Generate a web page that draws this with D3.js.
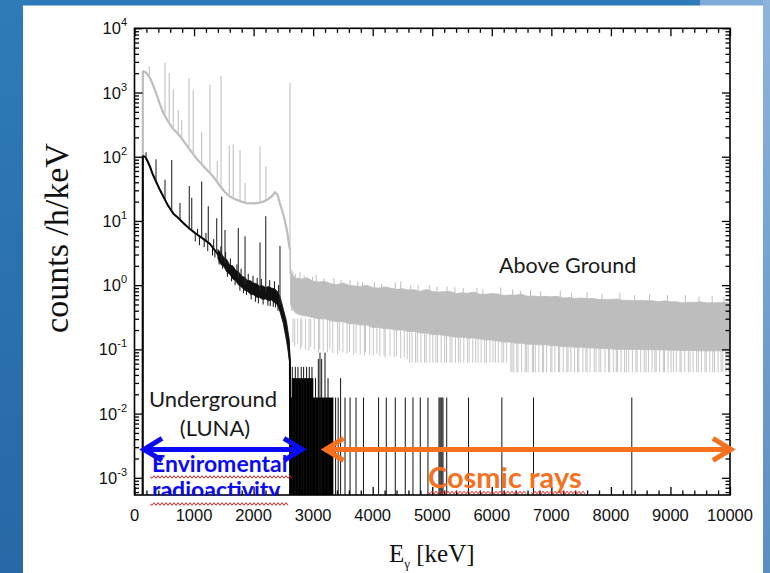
<!DOCTYPE html>
<html>
<head>
<meta charset="utf-8">
<script src="https://cdn.jsdelivr.net/npm/d3@7"></script>
<style>
body { margin: 0; background: #fff; }
svg { display: block; }
</style>
</head>
<body>
<svg id="chart" width="770" height="573"></svg>
<script>
// ---- values (E in keV, counts /h/keV) ----

// above ground: smooth part below 2615 keV
var agE = [138, 140, 150, 200, 260, 320, 373, 430, 484, 560, 652, 764, 900, 1044, 1180, 1323, 1436, 1520, 1604, 1700, 1800, 1884, 2000, 2100, 2163, 2250, 2320, 2360, 2400, 2443, 2500, 2556, 2600, 2614];
var agV = [5.4e-4, 2100, 2150, 2000, 1700, 1250, 920, 650, 480, 360, 270, 210, 140, 93, 68, 49, 35, 28, 24, 21.5, 20, 19, 18.8, 19.3, 20, 22, 25, 28, 26, 18.5, 12.5, 7.5, 4, 3.5];

// above ground: gamma lines
var agPeakE = [249, 512, 584, 652, 735, 793, 915, 987, 1128, 1268, 1390, 1453, 1592, 1659, 1772, 1856, 2108, 2208, 2611];
var agPeakV = [2570, 2940, 2000, 1100, 535, 375, 1690, 1100, 245, 1320, 85, 1820, 150, 155, 126, 39, 146, 71, 1420];

// above ground: noisy band above 2615 keV (upper / lower edge of the dense trace)
var bandE = [2620, 2700, 2800, 2900, 3000, 3100, 3200, 3300, 3400, 3500, 3600, 3700, 3800, 3900, 4000, 4100, 4200, 4300, 4400, 4500, 4600, 4700, 4800, 4900, 5000, 5100, 5200, 5300, 5400, 5500, 5600, 5700, 5800, 5900, 6000, 6100, 6200, 6300, 6400, 6500, 6600, 6700, 6800, 6900, 7000, 7100, 7200, 7300, 7400, 7500, 7600, 7700, 7800, 7900, 8000, 8100, 8200, 8300, 8400, 8500, 8600, 8700, 8800, 8900, 9000, 9100, 9200, 9300, 9400, 9500, 9600, 9700, 9800, 9900, 10000];
var bandHi = [1.55, 1.3, 1.25, 1.3, 1.15, 1.12, 1.14, 1.05, 1.02, 1.08, 1.0, 0.97, 0.95, 1.0, 0.92, 0.9, 0.94, 0.9, 0.86, 0.88, 0.84, 0.85, 0.8, 0.86, 0.8, 0.78, 0.79, 0.8, 0.74, 0.76, 0.75, 0.78, 0.72, 0.72, 0.74, 0.73, 0.69, 0.7, 0.7, 0.72, 0.67, 0.68, 0.66, 0.67, 0.66, 0.67, 0.63, 0.64, 0.62, 0.63, 0.62, 0.62, 0.6, 0.6, 0.6, 0.61, 0.58, 0.58, 0.57, 0.58, 0.57, 0.57, 0.55, 0.57, 0.55, 0.55, 0.53, 0.54, 0.54, 0.55, 0.53, 0.53, 0.53, 0.54, 0.52];
var bandLo = [0.5, 0.37, 0.34, 0.33, 0.31, 0.3, 0.3, 0.28, 0.27, 0.27, 0.25, 0.25, 0.24, 0.24, 0.22, 0.22, 0.21, 0.21, 0.2, 0.2, 0.19, 0.19, 0.18, 0.18, 0.17, 0.17, 0.165, 0.16, 0.155, 0.155, 0.15, 0.15, 0.145, 0.14, 0.14, 0.135, 0.13, 0.13, 0.125, 0.125, 0.12, 0.12, 0.118, 0.118, 0.115, 0.113, 0.11, 0.11, 0.108, 0.108, 0.106, 0.105, 0.104, 0.103, 0.102, 0.1, 0.1, 0.1, 0.1, 0.1, 0.099, 0.099, 0.098, 0.098, 0.097, 0.097, 0.096, 0.096, 0.096, 0.095, 0.095, 0.095, 0.095, 0.095, 0.095];

// above ground: channels dipping below the band (three stretches)
var dipE1 = [2660, 2690, 2740, 2790, 2810, 2870, 2930, 2960, 3020, 3090, 3110, 3170, 3240, 3280, 3330, 3410, 3440, 3500, 3570, 3610, 3680, 3720, 3790, 3860, 3880, 3950, 4010, 4070, 4120, 4190, 4210, 4290, 4360, 4400, 4470, 4530, 4580];
var dipV1 = [0.13, 0.11, 0.12, 0.1, 0.11, 0.1, 0.095, 0.11, 0.1, 0.09, 0.1, 0.095, 0.09, 0.1, 0.088, 0.085, 0.095, 0.09, 0.085, 0.09, 0.083, 0.088, 0.083, 0.08, 0.09, 0.083, 0.08, 0.085, 0.078, 0.08, 0.075, 0.08, 0.075, 0.078, 0.072, 0.075, 0.07];
var dipE2 = [4620, 4660, 4720, 4750, 4810, 4870, 4900, 4960, 5010, 5060, 5090, 5150, 5210, 5240, 5300, 5330, 5390, 5440, 5470, 5530, 5590, 5620, 5680, 5730, 5770, 5820, 5880, 5910, 5970, 6020, 6060, 6110, 6170, 6200, 6250];
var dipV2 = 0.062;
var dipE3 = [6320, 6340, 6370, 6420, 6440, 6500, 6560, 6580, 6610, 6680, 6700, 6730, 6790, 6850, 6870, 6920, 6990, 7010, 7060, 7120, 7140, 7200, 7260, 7280, 7330, 7390, 7440, 7460, 7530, 7580, 7600, 7650, 7720, 7750, 7800, 7830, 7900, 7960, 7980, 8040, 8090, 8110, 8170, 8230, 8260, 8300, 8360, 8420, 8440, 8500, 8560, 8590, 8630, 8690, 8740, 8760, 8820, 8880, 8900, 8960, 9010, 9050, 9100, 9160, 9180, 9240, 9300, 9330, 9380, 9440, 9470, 9520, 9580, 9600, 9660, 9710, 9740, 9800, 9850, 9880, 9930, 9970];
var dipV3 = 0.044;

// above ground: channels poking above the band
var riseE = [2640, 2660, 2700, 2780, 2850, 2990, 3050, 3180, 3350, 3470, 3620, 3750, 3830, 4030, 4150, 4380, 4470, 4640, 4760, 4950, 5080, 5250, 5380, 5520, 5750, 5850, 6150, 6350, 6480, 6650, 6820, 7150, 7340, 7600, 7850, 8150, 8400, 8650, 8950, 9250, 9480, 9700, 9900];
var riseV = [1.75, 1.6, 1.5, 1.6, 1.4, 1.35, 1.45, 1.3, 1.3, 1.2, 1.2, 1.15, 1.12, 1.1, 1.05, 1.1, 1.15, 1.0, 1.0, 1.0, 0.95, 0.95, 0.92, 0.9, 0.9, 0.86, 0.92, 0.85, 0.82, 0.85, 0.8, 0.82, 0.76, 0.78, 0.74, 0.76, 0.7, 0.72, 0.7, 0.7, 0.66, 0.68, 0.65];

// underground (LUNA) continuum up to 2615 keV
var ugE = [138, 140, 148, 180, 220, 260, 300, 373, 430, 484, 560, 652, 740, 819, 930, 1044, 1150, 1268, 1380, 1500, 1600, 1700, 1800, 1900, 2000, 2100, 2200, 2300, 2380, 2440, 2500, 2550, 2590, 2610, 2614];
var ugV = [5.4e-4, 100, 102, 100, 85, 70, 55, 39, 30, 24, 17.5, 13, 11, 9.3, 7.5, 6.2, 5.3, 4.4, 3.2, 2.3, 1.75, 1.4, 1.15, 1.0, 0.9, 0.82, 0.78, 0.76, 0.68, 0.5, 0.33, 0.2, 0.12, 0.065, 5.4e-4];

// underground: spread of the noisy trace between 1400 and 2600 keV
var ugBandE = [1400, 1450, 1500, 1550, 1600, 1650, 1700, 1750, 1800, 1850, 1900, 1950, 2000, 2050, 2100, 2150, 2200, 2250, 2300, 2350, 2400, 2450, 2500, 2550, 2600];
var ugBandHi = [3.6, 3.2, 2.7, 2.5, 2.05, 2.0, 1.7, 1.6, 1.38, 1.33, 1.18, 1.17, 1.08, 1.05, 0.97, 0.98, 0.92, 0.95, 0.9, 0.88, 0.8, 0.64, 0.42, 0.28, 0.14];
var ugBandLo = [2.6, 2.1, 1.95, 1.6, 1.48, 1.25, 1.17, 1.0, 0.93, 0.83, 0.8, 0.72, 0.71, 0.65, 0.64, 0.6, 0.61, 0.57, 0.59, 0.53, 0.5, 0.37, 0.25, 0.14, 0.07];

// underground: single noisy channels sticking out of that trace
var ugFlickE = [1020, 1060, 1090, 1170, 1200, 1230, 1310, 1330, 1350, 1420, 1450, 1480, 1530, 1560, 1610, 1630, 1690, 1720, 1770, 1790, 1830, 1880, 1910, 1960, 1990, 2030, 2060, 2080, 2130, 2160, 2240, 2270, 2280, 2330, 2350, 2370, 2410, 2420, 2480, 2520, 2570];
var ugFlickV = [4.8, 7.5, 4.2, 3.9, 6.5, 3.4, 2.9, 5.2, 2.7, 2.1, 4.0, 1.8, 3.3, 1.35, 2.6, 1.15, 1.0, 2.1, 0.82, 1.8, 0.75, 0.7, 1.5, 0.6, 1.4, 0.55, 1.3, 0.52, 1.25, 0.5, 0.48, 1.2, 0.47, 0.46, 1.15, 0.45, 0.4, 1.0, 0.3, 0.2, 0.12];

// underground gamma lines
var ugPeakE = [193, 361, 512, 625, 764, 920, 961, 1128, 1239, 1380, 1464, 1520, 1743, 1856, 2108, 2204, 2443];
var ugPeakV = [117, 91, 44, 89, 19, 35, 23, 41, 17, 11, 24, 7.2, 7.8, 5.8, 4.6, 11.8, 4.1];

// underground above 2615 keV: runs of channels with 1 or 2 counts
var runLo = [2625, 2640];
var runHi = [3340, 3003];
var runV = [0.0178, 0.0356];

// underground above 2615 keV: single channels
var hitE = [2650, 2700, 2745, 2800, 2840, 2890, 2935, 2980, 3040, 3087, 3115, 3143, 3199, 3250, 3377, 3420, 3461, 3535, 3620, 3720, 3845, 4099, 4228, 4379, 4547, 4676, 4799, 4928, 5113, 5130, 5147, 5163, 5180, 5243, 5609, 6169, 6700, 8351];
var hitV = [0.0534, 0.0534, 0.0534, 0.0534, 0.0534, 0.0534, 0.0534, 0.0534, 0.0356, 0.071, 0.089, 0.071, 0.089, 0.0356, 0.0178, 0.0178, 0.0356, 0.0178, 0.0178, 0.0178, 0.0178, 0.0178, 0.0178, 0.0178, 0.0178, 0.0178, 0.0178, 0.0178, 0.0178, 0.0178, 0.0178, 0.0178, 0.0178, 0.0178, 0.0178, 0.0178, 0.0178, 0.0178];

// axis tick labels
var xTickLabels = [0, 1000, 2000, 3000, 4000, 5000, 6000, 7000, 8000, 9000, 10000];
var yTickExp = [-3, -2, -1, 0, 1, 2, 3, 4];

// ---- drawing ----
var svg = d3.select("#chart");
var W = 770, H = 573;

var defs = svg.append("defs");
var bg = defs.append("linearGradient").attr("id", "bg")
    .attr("x1", 0).attr("y1", 0).attr("x2", 0).attr("y2", 1);
bg.append("stop").attr("offset", "0%").attr("stop-color", "#2e7bb8");
bg.append("stop").attr("offset", "100%").attr("stop-color", "#2868a6");
var bgR = defs.append("linearGradient").attr("id", "bgR")
    .attr("x1", 0).attr("y1", 0).attr("x2", 0).attr("y2", 1);
bgR.append("stop").attr("offset", "0%").attr("stop-color", "#8db4db");
bgR.append("stop").attr("offset", "100%").attr("stop-color", "#5b8dc2");

svg.append("rect").attr("width", W).attr("height", H).attr("fill", "url(#bg)");
svg.append("rect").attr("x", 700).attr("width", 70).attr("height", 6).attr("fill", "#7eaad6");
svg.append("rect").attr("x", 763).attr("width", 7).attr("height", H).attr("fill", "url(#bgR)");
svg.append("rect").attr("x", 23).attr("y", 5.5).attr("width", 740).attr("height", H).attr("fill", "#fff");

var x = d3.scaleLinear().domain([0, 10000]).range([134.5, 730]);
var y = d3.scaleLog().domain([5.4e-4, 1e4]).range([495, 28.3]);
var floorV = y.domain()[0];

defs.append("clipPath").attr("id", "plot").append("rect")
    .attr("x", x.range()[0]).attr("y", y.range()[1])
    .attr("width", x.range()[1] - x.range()[0]).attr("height", y.range()[0] - y.range()[1]);
defs.append("clipPath").attr("id", "textcut").append("rect")
    .attr("x", 0).attr("y", 0).attr("width", W).attr("height", 495.5);

var g = svg.append("g").attr("clip-path", "url(#plot)");
var line = d3.line().x(function (d) { return x(d[0]); }).y(function (d) { return y(d[1]); });
var area = d3.area()
    .x(function (d) { return x(d[0]); })
    .y0(function (d) { return y(d[2]); })
    .y1(function (d) { return y(d[1]); });

var GREY = "#bdbdbd";

// log-space base of the continuum, for hanging the line spikes on it
var agBase = d3.scaleLinear().domain(agE).range(agV.map(Math.log10));
var ugBase = d3.scaleLinear().domain(ugE).range(ugV.map(Math.log10));

function stems(sel, cls, data, top, bottom, color, w) {
    sel.selectAll("." + cls).data(data).enter().append("line")
        .attr("x1", function (d) { return x(d[0]); }).attr("x2", function (d) { return x(d[0]); })
        .attr("y1", bottom).attr("y2", top)
        .attr("stroke", color).attr("stroke-width", w);
}

// above ground: dips, band, rises
stems(g, "dip1", d3.zip(dipE1, dipV1), y(0.3), function (d) { return y(d[1]); }, "#c6c6c6", 1);
stems(g, "dip2", dipE2.map(function (e) { return [e, dipV2]; }), y(0.3), y(dipV2), "#c6c6c6", 1);
stems(g, "dip3", dipE3.map(function (e) { return [e, dipV3]; }), y(0.3), y(dipV3), "#c6c6c6", 1);

g.append("path").datum(d3.zip(bandE, bandHi, bandLo))
    .attr("d", area).attr("fill", GREY).attr("stroke", GREY).attr("stroke-width", 0.8);

stems(g, "rise", d3.zip(riseE, riseV), function (d) { return y(d[1]); }, y(0.4), GREY, 1);

// above ground: continuum and lines
g.append("path").datum(d3.zip(agE, agV))
    .attr("d", line).attr("fill", "none").attr("stroke", GREY).attr("stroke-width", 2.2);
stems(g, "agpk", d3.zip(agPeakE, agPeakV), function (d) { return y(d[1]); },
    function (d) { return y(Math.pow(10, agBase(d[0]))); }, "#c6c6c6", 1.2);
g.append("line").attr("x1", x(2614)).attr("x2", x(2614))
    .attr("y1", y(3.5)).attr("y2", y(1.5)).attr("stroke", GREY).attr("stroke-width", 1.5);

// underground: continuum, noise spread and lines
g.append("path").datum(d3.zip(ugE, ugV))
    .attr("d", line).attr("fill", "none").attr("stroke", "#000").attr("stroke-width", 2);
g.append("path").datum(d3.zip(ugBandE, ugBandHi, ugBandLo))
    .attr("d", area).attr("fill", "#111").attr("stroke", "#111").attr("stroke-width", 0.8);
stems(g, "ugfl", d3.zip(ugFlickE, ugFlickV), function (d) { return y(d[1]); },
    function (d) { return y(Math.pow(10, ugBase(d[0]))); }, "#111", 1);
stems(g, "ugpk", d3.zip(ugPeakE, ugPeakV), function (d) { return y(d[1]); },
    function (d) { return y(Math.pow(10, ugBase(d[0]))); }, "#2a2a2a", 1.1);

g.selectAll(".run").data(d3.zip(runLo, runHi, runV)).enter().append("rect")
    .attr("x", function (d) { return x(d[0]); })
    .attr("width", function (d) { return x(d[1]) - x(d[0]); })
    .attr("y", function (d) { return y(d[2]); })
    .attr("height", function (d) { return y(floorV) - y(d[2]); })
    .attr("fill", "#000");
stems(g, "hit", d3.zip(hitE, hitV), function (d) { return y(d[1]); }, y(floorV), "#111", 1);

// frame and inward ticks
var xMinor = x.ticks(50).filter(function (v) { return v % 1000 !== 0; });
var yMinor = y.ticks().filter(function (v) {
    var l = Math.log10(v); return Math.abs(l - Math.round(l)) > 1e-6;
});
var yMajor = yTickExp.map(function (e) { return Math.pow(10, e); });

function ticks(gen, scale, tx, ty, vals, len) {
    svg.append("g").attr("transform", "translate(" + tx + "," + ty + ")")
        .call(gen(scale).tickValues(vals).tickSize(-len).tickFormat(""))
        .call(function (s) { s.select(".domain").remove(); })
        .selectAll("line").attr("stroke", "#000").attr("stroke-width", 1.3);
}
ticks(d3.axisBottom, x, 0, 495, xTickLabels, 8);
ticks(d3.axisBottom, x, 0, 495, xMinor, 4.5);
ticks(d3.axisTop, x, 0, 28.3, xTickLabels, 8);
ticks(d3.axisTop, x, 0, 28.3, xMinor, 4.5);
ticks(d3.axisLeft, y, 134.5, 0, yMajor, 8);
ticks(d3.axisLeft, y, 134.5, 0, yMinor, 4.5);
ticks(d3.axisRight, y, 730, 0, yMajor, 8);
ticks(d3.axisRight, y, 730, 0, yMinor, 4.5);

svg.append("rect").attr("x", 134.5).attr("y", 28.3)
    .attr("width", 730 - 134.5).attr("height", 495 - 28.3)
    .attr("fill", "none").attr("stroke", "#000").attr("stroke-width", 1.6);

var SANS = "'Liberation Sans', Arial, sans-serif";
var SERIF = "'Liberation Serif', 'Times New Roman', serif";

svg.selectAll(".xl").data(xTickLabels).enter().append("text")
    .attr("x", function (d) { return x(d); }).attr("y", 521)
    .attr("text-anchor", "middle")
    .style("font-family", SANS).style("font-size", "16.5px").style("fill", "#111")
    .text(function (d) { return d; });

var yl = svg.selectAll(".yl").data(yTickExp).enter().append("text")
    .attr("x", 127).attr("y", function (d) { return y(Math.pow(10, d)) + 6; })
    .attr("text-anchor", "end")
    .style("font-family", SANS).style("font-size", "16.5px").style("fill", "#111");
yl.append("tspan").text("10");
yl.append("tspan").attr("dy", -8).style("font-size", "11px").text(function (d) { return d; });

svg.append("text").attr("transform", "translate(68,238) rotate(-90)")
    .attr("text-anchor", "middle")
    .style("font-family", SERIF).style("font-size", "34px").style("fill", "#111")
    .text("counts /h/keV");

var xt = svg.append("text").attr("x", 389).attr("y", 562)
    .style("font-family", SERIF).style("font-size", "25px").style("fill", "#111");
xt.append("tspan").text("E");
xt.append("tspan").attr("dy", 6).style("font-size", "13px").text("γ");
xt.append("tspan").attr("dy", -6).text(" [keV]");

// ---- annotations ----
var ANN = "Lato, 'Open Sans', sans-serif";
svg.append("text").attr("x", 499).attr("y", 273)
    .style("font-family", ANN).style("font-size", "21.5px").style("fill", "#1a1a1a")
    .text("Above Ground");
svg.append("text").attr("x", 213).attr("y", 407).attr("text-anchor", "middle")
    .style("font-family", ANN).style("font-size", "22px").style("fill", "#1a1a1a")
    .text("Underground");
svg.append("text").attr("x", 215).attr("y", 436).attr("text-anchor", "middle")
    .style("font-family", ANN).style("font-size", "22px").style("fill", "#1a1a1a")
    .text("(LUNA)");

var BLUE = "#0a0af5", ORANGE = "#f7701d";

function arrow(e0, e1, v, color) {
    var a = x(e0), b = x(e1), h = y(v);
    var s = svg.append("g").attr("stroke", color).attr("stroke-width", 5).attr("fill", "none");
    s.append("line").attr("x1", a + 2).attr("x2", b - 2).attr("y1", h).attr("y2", h);
    s.append("path").attr("d", "M" + (a + 20) + "," + (h - 11) + "L" + (a + 2) + "," + h + "L" + (a + 20) + "," + (h + 11));
    s.append("path").attr("d", "M" + (b - 20) + "," + (h - 11) + "L" + (b - 2) + "," + h + "L" + (b - 20) + "," + (h + 11));
}
arrow(126, 2846, 0.00277, BLUE);
arrow(3174, 10050, 0.00277, ORANGE);

function squiggle(x0, x1, yy) {
    var p = "M" + x0 + "," + yy, k = 0;
    for (var xx = x0 + 2; xx <= x1; xx += 2) {
        p += "L" + xx + "," + (yy + (k % 2 ? -1.3 : 1.3));
        k++;
    }
    svg.append("path").attr("d", p).attr("fill", "none")
        .attr("stroke", "#e52222").attr("stroke-width", 1);
}

svg.append("text").attr("x", 152).attr("y", 472)
    .style("font-family", ANN).style("font-weight", "bold").style("font-size", "23px").style("fill", BLUE)
    .text("Enviromental");
svg.append("text").attr("x", 152).attr("y", 498).attr("clip-path", "url(#textcut)")
    .style("font-family", ANN).style("font-weight", "bold").style("font-size", "23px").style("fill", BLUE)
    .text("radioactivity");
svg.append("text").attr("x", 428).attr("y", 488).attr("clip-path", "url(#textcut)")
    .style("font-family", ANN).style("font-weight", "bold").style("font-size", "29px").style("fill", ORANGE)
    .text("Cosmic rays");

squiggle(150, 292, 477);
squiggle(150, 288, 504);
squiggle(428, 527, 492.5);
squiggle(531, 585, 492.5);
</script>
</body>
</html>
